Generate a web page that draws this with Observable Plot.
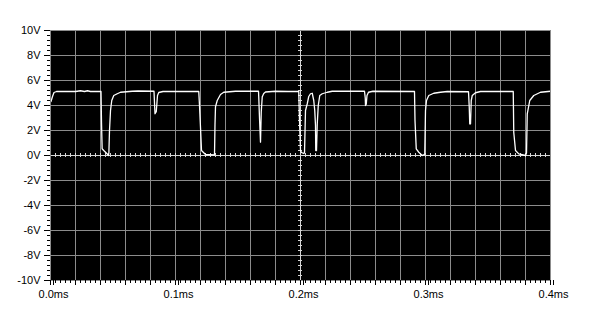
<!DOCTYPE html>
<html>
<head>
<meta charset="utf-8">
<script src="https://cdn.jsdelivr.net/npm/d3@7"></script>
<script src="https://cdn.jsdelivr.net/npm/@observablehq/plot@0.6"></script>
<style>
  html, body { margin: 0; padding: 0; background: #fff; }
  #chart svg { display: block; }
</style>
</head>
<body>
<div id="chart"></div>
<script>
// Time (ms) samples of the trace
const timeMs = [
  0.0004, 0.0016, 0.0028, 0.0048, 0.0200, 0.0240, 0.0272, 0.0296, 0.0320, 0.0404,
  0.0408, 0.0413, 0.0426, 0.0440, 0.0458, 0.0464, 0.0467, 0.0472, 0.0480, 0.0490,
  0.0506, 0.0534, 0.0560, 0.0654, 0.0700, 0.0828, 0.0832, 0.0836, 0.0846, 0.0856,
  0.0866, 0.0900, 0.1186, 0.1192, 0.1200, 0.1208, 0.1224, 0.1240, 0.1312, 0.1316,
  0.1320, 0.1334, 0.1360, 0.1386, 0.1480, 0.1664, 0.1667, 0.1672, 0.1680, 0.1686,
  0.1694, 0.1706, 0.1720, 0.1800, 0.1900, 0.1986, 0.1992, 0.2000, 0.2008, 0.2026,
  0.2032, 0.2040, 0.2054, 0.2066, 0.2080, 0.2094, 0.2106, 0.2114, 0.2120, 0.2122,
  0.2128, 0.2134, 0.2142, 0.2154, 0.2174, 0.2214, 0.2254, 0.2512, 0.2518, 0.2520,
  0.2526, 0.2532, 0.2544, 0.2580, 0.2912, 0.2916, 0.2926, 0.2946, 0.2974, 0.2994,
  0.3000, 0.3008, 0.3026, 0.3066, 0.3120, 0.3174, 0.3344, 0.3350, 0.3354, 0.3360,
  0.3366, 0.3374, 0.3400, 0.3440, 0.3702, 0.3706, 0.3720, 0.3746, 0.3800, 0.3808,
  0.3814, 0.3834, 0.3866, 0.3920, 0.4000
];
// Voltage (V) samples of the trace
const volts = [
  4.32, 4.72, 5.04, 5.12, 5.12, 5.18, 5.12, 5.18, 5.12, 5.12,
  2.66, 0.54, 0.40, 0.26, 0.08, 0.00, 0.24, 2.00, 3.60, 4.40,
  4.80, 4.94, 5.06, 5.14, 5.16, 5.14, 4.20, 3.34, 3.50, 4.80,
  5.04, 5.12, 5.12, 4.00, 2.24, 0.40, 0.24, 0.08, 0.05, 2.50,
  3.90, 4.40, 4.88, 5.06, 5.14, 5.14, 4.40, 3.00, 1.07, 3.50,
  4.70, 4.96, 5.08, 5.14, 5.12, 5.12, 2.80, 0.40, 0.24, 0.16,
  0.24, 3.60, 4.14, 4.72, 4.94, 4.98, 4.40, 3.60, 2.40, 0.40,
  0.40, 2.53, 4.00, 4.80, 4.94, 5.06, 5.14, 5.14, 4.60, 4.00,
  4.10, 4.80, 5.06, 5.14, 5.12, 2.80, 0.53, 0.26, 0.00, 0.10,
  3.60, 4.40, 4.80, 4.98, 5.06, 5.12, 5.10, 3.86, 2.53, 2.53,
  4.40, 4.80, 5.02, 5.12, 5.12, 1.86, 0.40, 0.13, 0.00, 0.20,
  3.33, 4.40, 4.80, 5.06, 5.14
];

// Axis / grid tick values
const xLabelTicks = [0, 0.1, 0.2, 0.3, 0.4];
const xGridTicks = [0.02, 0.04, 0.06, 0.08, 0.1, 0.12, 0.14, 0.16, 0.18,
                    0.22, 0.24, 0.26, 0.28, 0.3, 0.32, 0.34, 0.36, 0.38];
const xMajorTicks = [0, 0.02, 0.04, 0.06, 0.08, 0.1, 0.12, 0.14, 0.16, 0.18, 0.2,
                     0.22, 0.24, 0.26, 0.28, 0.3, 0.32, 0.34, 0.36, 0.38, 0.4];
const yLabelTicks = [-10, -8, -6, -4, -2, 0, 2, 4, 6, 8, 10];
const yGridTicks = [-8, -6, -4, -2, 2, 4, 6, 8];
const xMinorTicks = d3.range(0, 0.40001, 0.004);
const yMinorTicks = d3.range(-10, 10.0001, 0.4);

const data = timeMs.map((t, i) => ({t, v: volts[i]}));

const gridColor = "#8c8c8c";
const crossColor = "#d6d6d6";

const chart = Plot.plot({
  width: 600,
  height: 320,
  marginLeft: 50,
  marginRight: 50,
  marginTop: 30,
  marginBottom: 40,
  style: {fontFamily: "'Liberation Sans', Arial, sans-serif", fontSize: "11px", background: "white", color: "black"},
  x: {domain: [0, 0.4]},
  y: {domain: [-10, 10]},
  marks: [
    Plot.frame({fill: "black"}),
    Plot.ruleX(xGridTicks, {x: d => d, stroke: gridColor, strokeWidth: 1}),
    Plot.ruleY(yGridTicks, {y: d => d, stroke: gridColor, strokeWidth: 1}),
    Plot.ruleY([0], {y: d => d, stroke: crossColor}),
    Plot.ruleX([0.2], {x: d => d, stroke: crossColor}),
    Plot.ruleX(xMinorTicks, {x: d => d, y1: -0.16, y2: 0.16, stroke: crossColor}),
    Plot.ruleY(yMinorTicks, {y: d => d, x1: 0.2 - 0.0016, x2: 0.2 + 0.0016, stroke: crossColor}),
    Plot.line(data, {x: "t", y: "v", stroke: "white", strokeWidth: 1.3, curve: "linear"}),
    Plot.frame({stroke: gridColor}),
    Plot.axisX(xMinorTicks, {tickSize: 3, tickFormat: () => "", label: null}),
    Plot.axisX(xMajorTicks, {tickSize: 5, tickFormat: () => "", label: null}),
    Plot.axisX(xLabelTicks, {tickSize: 5, tickPadding: 5, dx: 3, tickFormat: d => d.toFixed(1) + "ms", label: null, fontSize: 11}),
    Plot.axisY(yMinorTicks, {tickSize: 3, tickFormat: () => "", label: null}),
    Plot.axisY(yLabelTicks, {tickSize: 6, tickPadding: 4, tickFormat: d => d + "V", label: null, fontSize: 11})
  ]
});
document.getElementById("chart").appendChild(chart);
</script>
</body>
</html>
